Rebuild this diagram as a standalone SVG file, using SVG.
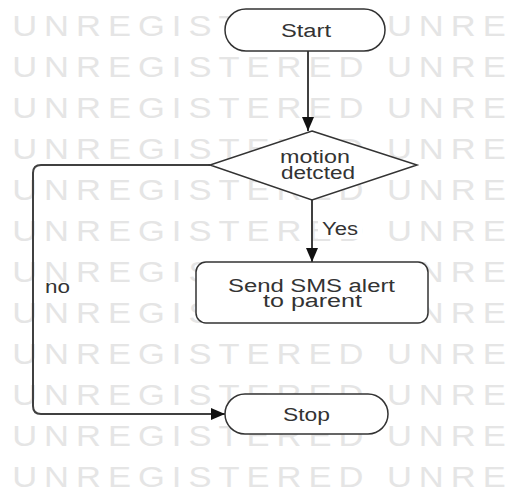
<svg xmlns="http://www.w3.org/2000/svg" width="506" height="492" viewBox="0 0 506 492">
<style>
.wm{font-family:"Liberation Sans",Arial,sans-serif;font-size:30px;fill:#e5e5e5;letter-spacing:6.1px}
.node{fill:#ffffff;stroke:#333333;stroke-width:1.5}
.lbl{font-family:"Liberation Sans",Arial,sans-serif;font-size:18px;fill:#333333}
.edge{fill:none;stroke:#404040;stroke-width:2}
</style>
<defs>
<marker id="arr" markerUnits="userSpaceOnUse" markerWidth="14" markerHeight="12" refX="14" refY="6" orient="auto">
<path d="M0,0 L14,6 L0,12 z" fill="#111111"/>
</marker>
</defs>
<rect x="0" y="0" width="506" height="492" fill="#ffffff"/>
<g id="watermark" transform="scale(1.15,1)">
<text class="wm" x="10.6" y="36">UNREGISTERED UNRE</text>
<text class="wm" x="10.6" y="77">UNREGISTERED UNRE</text>
<text class="wm" x="10.6" y="118">UNREGISTERED UNRE</text>
<text class="wm" x="10.6" y="159">UNREGISTERED UNRE</text>
<text class="wm" x="10.6" y="200">UNREGISTERED UNRE</text>
<text class="wm" x="10.6" y="241">UNREGISTERED UNRE</text>
<text class="wm" x="10.6" y="282">UNREGISTERED UNRE</text>
<text class="wm" x="10.6" y="323">UNREGISTERED UNRE</text>
<text class="wm" x="10.6" y="364">UNREGISTERED UNRE</text>
<text class="wm" x="10.6" y="405">UNREGISTERED UNRE</text>
<text class="wm" x="10.6" y="446">UNREGISTERED UNRE</text>
<text class="wm" x="10.6" y="487">UNREGISTERED UNRE</text>
</g>
<g id="connectors">
<path class="edge" d="M308 51 L308 131" marker-end="url(#arr)"/>
<path class="edge" d="M312 200 L312 262" marker-end="url(#arr)"/>
<path class="edge" d="M210 165 L41 165 Q33 165 33 173 L33 406 Q33 414 41 414 L225 414" marker-end="url(#arr)"/>
<rect x="318" y="218" width="44" height="21" fill="#ffffff"/>
<text class="lbl" x="322" y="235" textLength="36" lengthAdjust="spacingAndGlyphs">Yes</text>
<text class="lbl" x="45" y="293" textLength="25" lengthAdjust="spacingAndGlyphs">no</text>
</g>
<g id="start">
<rect class="node" x="225" y="9" width="160" height="42" rx="21" ry="21"/>
<text class="lbl" x="306" y="36.5" text-anchor="middle" textLength="50" lengthAdjust="spacingAndGlyphs">Start</text>
</g>
<g id="decision">
<polygon class="node" points="312,131 417,165 312,200 210,165"/>
<text class="lbl" x="315" y="163" text-anchor="middle" textLength="70" lengthAdjust="spacingAndGlyphs">motion</text>
<text class="lbl" x="318" y="179" text-anchor="middle" textLength="74" lengthAdjust="spacingAndGlyphs">detcted</text>
</g>
<g id="sms">
<rect class="node" x="196" y="262" width="232" height="61" rx="10" ry="10"/>
<text class="lbl" x="311.5" y="291.5" text-anchor="middle" textLength="167" lengthAdjust="spacingAndGlyphs">Send SMS alert</text>
<text class="lbl" x="312.5" y="306.5" text-anchor="middle" textLength="99" lengthAdjust="spacingAndGlyphs">to parent</text>
</g>
<g id="stop">
<rect class="node" x="225" y="394" width="163" height="40" rx="20" ry="20"/>
<text class="lbl" x="306.5" y="421" text-anchor="middle" textLength="47" lengthAdjust="spacingAndGlyphs">Stop</text>
</g>
</svg>
